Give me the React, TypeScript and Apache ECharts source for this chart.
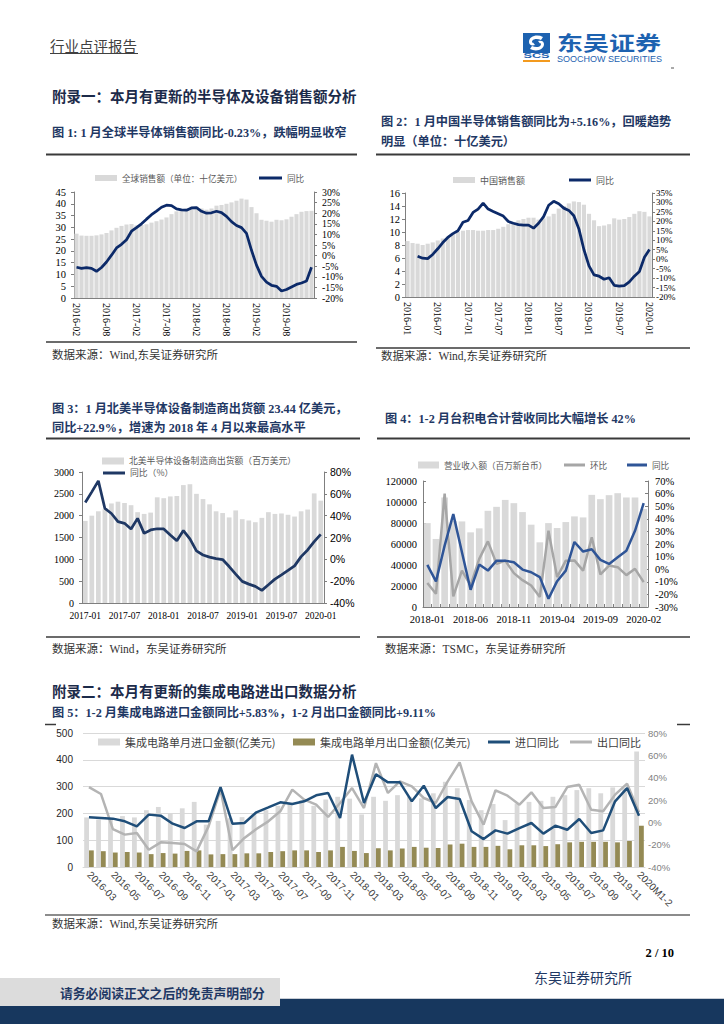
import React, { useEffect, useRef } from "react";
import * as echarts from "echarts";

const SERIF = "'Liberation Serif', 'Noto Sans CJK SC', serif";
const SANS = "'Liberation Sans', 'Noto Sans CJK SC', sans-serif";
const CJK = "'Noto Sans CJK SC', 'Liberation Sans', sans-serif";

function monthRange(y0: number, m0: number, n: number): string[] {
  const out: string[] = [];
  let y = y0;
  let m = m0;
  for (let i = 0; i < n; i++) {
    out.push(`${y}-${m < 10 ? "0" + m : m}`);
    m++;
    if (m > 12) {
      m = 1;
      y++;
    }
  }
  return out;
}

// ---------- Chart 1: global semiconductor sales ----------
const c1Categories = monthRange(2016, 2, 48);
const c1Sales = [
  27.3, 26.5, 26.4, 26.4, 26.6, 27.0, 27.6, 28.7, 29.8, 30.6,
  31.2, 31.4, 30.8, 31.0, 31.3, 32.0, 32.6, 33.3, 34.2, 35.6,
  36.8, 37.3, 38.0, 38.8, 38.8, 38.0, 37.5, 38.0, 39.2, 39.5,
  40.0, 40.6, 41.3, 42.2, 41.8, 38.6, 36.0, 33.2, 32.8, 32.4,
  33.2, 33.0, 33.4, 34.5, 35.6, 36.6, 36.9, 37.0,
];
const c1Yoy = [
  -5.5, -6.0, -5.7, -6.0, -7.4, -5.6, -3.0, 0.2, 3.6, 5.3,
  7.5, 11.5, 13.2, 15.0, 17.2, 19.3, 21.0, 22.8, 23.8, 23.6,
  22.0, 21.6, 21.4, 22.5, 22.6, 20.9, 20.0, 20.2, 20.9, 20.3,
  18.5, 16.0, 14.2, 13.2, 10.5, 2.5, -4.5, -9.8, -12.5, -14.0,
  -14.5, -16.7, -16.0, -14.8, -13.6, -12.9, -12.0, -5.5,
];

// ---------- Chart 2: China semiconductor sales ----------
const c2Categories = monthRange(2016, 1, 49);
const c2Sales = [
  8.6, 8.3, 8.2, 8.0, 8.2, 8.4, 8.7, 9.0, 9.3, 9.7,
  10.0, 10.2, 10.3, 10.3, 10.2, 10.2, 10.3, 10.3, 10.5, 10.8,
  11.2, 11.5, 11.8, 12.0, 12.2, 12.2, 11.9, 12.1, 12.4, 12.8,
  13.6, 14.0, 14.4, 14.7, 14.6, 14.2, 12.8, 11.8, 10.9, 11.0,
  11.2, 12.1, 11.9, 12.0, 12.3, 12.8, 13.2, 13.1, 12.4,
];
const c2Yoy = [
  null, null, 1.6, 0.5, 0.3, 2.5, 5.5, 8.8, 11.5, 13.5,
  15.0, 19.5, 20.5, 24.7, 26.5, 29.7, 26.5, 25.2, 24.0, 22.8,
  19.9, 19.0, 18.3, 18.0, 18.0, 16.4, 19.0, 22.5, 28.5, 30.6,
  29.3, 27.0, 25.8, 23.0, 16.0, 5.0, -3.5, -8.3, -9.0, -10.6,
  -9.8, -13.8, -14.3, -14.0, -12.0, -9.0, -6.5, 1.0, 5.16,
];

// ---------- Chart 3: North America equipment billings ----------
const c3Categories = monthRange(2017, 1, 37);
const c3Billings = [
  1880, 2000, 2100, 2150, 2280, 2320, 2290, 2240, 2080, 2040,
  2070, 2420, 2400, 2440, 2450, 2700, 2720, 2500, 2380, 2260,
  2100, 2060, 1960, 2120, 1920, 1890, 1850, 1950, 2080, 2040,
  2050, 2020, 1980, 2100, 2140, 2510, 2344,
];
const c3Yoy = [
  52.0, 61.8, 71.9, 46.6, 42.0, 34.5, 33.0, 27.8, 37.5, 23.8,
  26.9, 28.0, 27.8, 22.3, 17.1, 26.3, 18.7, 7.7, 4.0, 2.0,
  0.7, -0.2, -6.6, -13.6, -20.2, -22.7, -24.8, -28.4, -23.3, -18.1,
  -14.2, -10.2, -6.0, 2.5, 8.6, 16.2, 22.9,
];

// ---------- Chart 4: TSMC revenue ----------
const c4Categories = monthRange(2018, 1, 26);
const c4Revenue = [
  79900, 64800, 104300, 81900, 81500, 71100, 74900, 91600, 95400, 102000,
  98900, 90400, 78400, 61600, 79900, 75200, 80900, 86300, 85300, 106800,
  102700, 106500, 108400, 104300, 104300, 93400,
];
const c4Mom = [
  -11.0, -19.5, 60.0, -21.6, -1.1, -12.9, 8.2, 22.1, 4.2, 6.8,
  -3.1, -8.7, -12.9, -22.0, 30.5, -6.3, 6.8, 7.0, -1.1, 25.3,
  -4.2, 2.9, 1.6, -4.7, 0.3, -10.3,
];
const c4Yoy = [
  3.4, -9.7, 18.7, 43.7, 13.4, -16.3, 3.7, -1.1, 6.8, 6.8,
  5.5, -0.3, -2.4, -6.3, -23.4, -9.5, -1.1, 21.6, 14.0, 15.8,
  7.4, 4.2, 9.5, 14.7, 30.5, 52.4,
];

// ---------- Chart 5: IC import / export ----------
const c5Categories = [...monthRange(2016, 3, 46), "2020M1-2"];
const c5Import = [
  185, 177, 182, 190, 185, 212, 224, 198, 219, 243,
  158, 172, 182, 186, 200, 212, 228, 240, 250, 228,
  252, 262, 255, 196, 262, 247, 268, 262, 256, 275,
  318, 294, 250, 212, 235, 175, 237, 243, 247, 262,
  268, 287, 294, 275, 297, 294, 431,
];
const c5Export = [
  62, 59, 54, 56, 54, 48, 52, 50, 60, 62,
  47, 48, 48, 51, 51, 56, 59, 62, 62, 56,
  62, 75, 60, 52, 70, 62, 69, 75, 72, 71,
  84, 87, 75, 75, 79, 66, 81, 81, 78, 85,
  92, 94, 94, 94, 92, 97, 154,
];
const c5ImportYoy = [
  4.5, 3.9, 3.3, 0.9, -3.6, 6.9, 6.0, -1.2, -5.1, 0.9,
  0.9, 31.6, -1.2, -0.6, 9.0, 13.4, 17.9, 16.4, 18.8, 24.2,
  26.3, 3.9, 60.6, 17.3, 43.0, 35.8, 35.8, 18.8, 32.8, 12.8,
  22.7, 20.9, -8.0, -15.0, -7.2, -10.1, -5.1, -0.6, -10.1, -3.0,
  -6.6, 3.0, -9.6, -7.2, 18.8, 30.7, 5.83,
];
const c5ExportYoy = [
  31.6, 25.4, -6.0, -11.0, -9.6, -24.5, -17.9, -18.5, -19.4, -26.0,
  -3.6, 29.3, -25.0, -14.0, -6.0, 0.9, 9.9, 29.3, 20.3, 15.8,
  4.8, 17.3, 30.7, 12.8, 53.0, 26.3, 36.7, 32.2, 21.8, 17.3,
  36.7, 53.7, 18.8, -2.1, 28.7, 23.9, 15.8, 26.9, 12.8, 13.7,
  31.6, 33.7, 11.3, 9.9, 24.8, 34.6, 9.11,
];

// ---------- logo shape ----------
const LOGO_D =
  "M20 4 C14 1 6 3 6 9 C6 12 9 13 12 12 L10 9.5 C9 10 8.5 9 9.5 7.5 C11 5.5 15 5.5 18 7 Z " +
  "M7 16 C13 19 21 17 21 11 C21 8 18 7 15 8 L17 10.5 C18 10 18.5 11 17.5 12.5 C16 14.5 12 14.5 9 13 Z";
let logoRegistered = false;
function ensureLogo() {
  if (logoRegistered) return;
  echarts.graphic.registerShape("scsLogo", echarts.graphic.extendPath(LOGO_D, {}));
  logoRegistered = true;
}

const AXIS_GREY = "#7f7f7f";
const NAVY_TITLE = "#1f3864";

function txt(text: string, x: number, y: number, size: number, fill: string, opts: any = {}) {
  const { weight = "normal", family = SERIF, align = "left", ...rest } = opts;
  return {
    type: "text",
    x,
    y,
    silent: true,
    style: {
      text,
      fill,
      fontSize: size,
      fontWeight: weight,
      fontFamily: family,
      align,
      verticalAlign: "middle",
    },
    ...rest,
  };
}
function hline(x1: number, x2: number, y: number, stroke: string, w: number) {
  return { type: "line", silent: true, shape: { x1, y1: y, x2, y2: y }, style: { stroke, lineWidth: w } };
}
function rect(x: number, y: number, width: number, height: number, fill: string) {
  return { type: "rect", silent: true, shape: { x, y, width, height }, style: { fill } };
}

function leg(name: string, left: number, yc: number, w: number, h: number, color: string, fontSize: number, textColor = "#404040") {
  const rowH = Math.max(h, fontSize);
  return {
    show: true,
    left,
    top: yc - rowH / 2,
    padding: 0,
    itemWidth: w,
    itemHeight: h,
    itemGap: 0,
    selectedMode: false,
    data: [{ name, icon: "rect", itemStyle: { color, borderWidth: 0 } }],
    textStyle: { fontSize, color: textColor, fontFamily: CJK },
  };
}

function xa(gridIndex: number, data: string[], label: any, extra: any = {}) {
  return {
    type: "category",
    gridIndex,
    data,
    boundaryGap: true,
    axisLine: { show: true, lineStyle: { color: AXIS_GREY, width: 1 } },
    axisTick: { show: false },
    splitLine: { show: false },
    axisLabel: { color: "#000", fontFamily: SERIF, fontSize: 10, ...label },
    ...extra,
  };
}
const plain = (v: number) => String(v);
const pct = (v: number) => `${v}%`;
function ya(gridIndex: number, position: string, min: number, max: number, interval: number, label: any, extra: any = {}) {
  return {
    type: "value",
    gridIndex,
    position,
    min,
    max,
    interval,
    axisLine: { show: true, lineStyle: { color: AXIS_GREY, width: 1 } },
    axisTick: { show: true, length: 3, lineStyle: { color: AXIS_GREY } },
    splitLine: { show: false },
    axisLabel: {
      color: "#000",
      fontFamily: SERIF,
      fontSize: 11,
      margin: 8,
      showMinLabel: true,
      showMaxLabel: true,
      hideOverlap: false,
      formatter: plain,
      ...label,
    },
    ...extra,
  };
}

function buildOption() {
  const grid = [
    { left: 74, top: 192, width: 240, height: 106, outerBoundsMode: "none" },
    { left: 405, top: 193, width: 247, height: 104, outerBoundsMode: "none" },
    { left: 82, top: 472, width: 242, height: 131, outerBoundsMode: "none" },
    { left: 423, top: 481, width: 225, height: 126, outerBoundsMode: "none" },
    { left: 83, top: 733, width: 562, height: 134, outerBoundsMode: "none" },
  ];
  const xAxis = [
    xa(0, c1Categories, { interval: 5, rotate: -90, margin: 5, fontSize: 10 }),
    xa(1, c2Categories, { interval: 5, rotate: -90, margin: 5, fontSize: 10 }),
    xa(2, c3Categories, { interval: 5, margin: 8, fontSize: 9.5 }),
    xa(3, c4Categories, { interval: 4, margin: 7, fontSize: 10.5 }, {
      axisTick: { show: true, inside: true, length: 3, interval: 0, lineStyle: { color: AXIS_GREY } },
    }),
    xa(4, c5Categories, { interval: 1, rotate: -45, margin: 6, fontSize: 10, fontFamily: SANS, color: "#404040" }, {
      axisLine: { show: true, lineStyle: { color: "#d9d9d9", width: 1 } },
    }),
  ];
  const yAxis = [
    ya(0, "left", 0, 45, 5, { fontSize: 10.5 }),
    ya(0, "right", -20, 30, 5, { formatter: pct, fontSize: 9.8 }),
    ya(1, "left", 0, 16, 2, { margin: 5, fontSize: 10.5 }),
    ya(1, "right", -20, 35, 5, { formatter: pct, margin: 4, fontSize: 9 }),
    ya(2, "left", 0, 3000, 500, { fontSize: 10 }),
    ya(2, "right", -40, 80, 20, { formatter: pct, fontFamily: SANS, fontSize: 10.5, margin: 6 }),
    ya(3, "left", 0, 120000, 20000, { fontSize: 10.5, margin: 6 }, {
      axisTick: { show: true, inside: true, length: 3, lineStyle: { color: AXIS_GREY } },
    }),
    ya(3, "right", -30, 70, 10, { formatter: pct, fontSize: 10.5, margin: 7 }, {
      axisTick: { show: true, inside: true, length: 3, lineStyle: { color: AXIS_GREY } },
    }),
    ya(4, "left", 0, 500, 100, { fontFamily: SANS, fontSize: 10, margin: 10, color: "#262626" }, {
      axisLine: { show: false },
      axisTick: { show: false },
      splitLine: { show: true, lineStyle: { color: "#d9d9d9", width: 1 } },
    }),
    ya(4, "right", -40, 80, 20, { formatter: pct, fontFamily: SANS, fontSize: 9.5, margin: 3, color: "#7f7f7f" }, {
      axisLine: { show: false },
      axisTick: { show: false },
    }),
  ];

  const series: any[] = [
    // chart 1
    {
      type: "bar", name: "全球销售额（单位：十亿美元）", xAxisIndex: 0, yAxisIndex: 0, data: c1Sales,
      itemStyle: { color: "#d9d9d9" }, barCategoryGap: "18%",
    },
    {
      type: "line", name: "同比", xAxisIndex: 0, yAxisIndex: 1, data: c1Yoy, symbol: "none",
      lineStyle: { color: "#0c2a69", width: 2.75 }, itemStyle: { color: "#0c2a69" },
    },
    // chart 2
    {
      type: "bar", name: "中国销售额", xAxisIndex: 1, yAxisIndex: 2, data: c2Sales,
      itemStyle: { color: "#d9d9d9" }, barCategoryGap: "18%",
    },
    {
      type: "line", name: "同比", xAxisIndex: 1, yAxisIndex: 3, data: c2Yoy, symbol: "none",
      lineStyle: { color: "#0c2a69", width: 2.75 }, itemStyle: { color: "#0c2a69" },
    },
    // chart 3
    {
      type: "bar", name: "北美半导体设备制造商出货额（百万美元）", xAxisIndex: 2, yAxisIndex: 4, data: c3Billings,
      itemStyle: { color: "#d9d9d9" }, barCategoryGap: "28%",
    },
    {
      type: "line", name: "同比（%）", xAxisIndex: 2, yAxisIndex: 5, data: c3Yoy, symbol: "none",
      lineStyle: { color: "#1f3864", width: 2.75 }, itemStyle: { color: "#1f3864" },
    },
    // chart 4
    {
      type: "bar", name: "营业收入额（百万新台币）", xAxisIndex: 3, yAxisIndex: 6, data: c4Revenue,
      itemStyle: { color: "#d9d9d9" }, barCategoryGap: "23%",
    },
    {
      type: "line", name: "环比", xAxisIndex: 3, yAxisIndex: 7, data: c4Mom, symbol: "none",
      lineStyle: { color: "#a6a6a6", width: 2.5 }, itemStyle: { color: "#a6a6a6" },
    },
    {
      type: "line", name: "同比", xAxisIndex: 3, yAxisIndex: 7, data: c4Yoy, symbol: "none",
      lineStyle: { color: "#2f5597", width: 2.5 }, itemStyle: { color: "#2f5597" },
    },
    // chart 5
    {
      type: "bar", name: "集成电路单月进口金额(亿美元)", xAxisIndex: 4, yAxisIndex: 8, data: c5Import,
      itemStyle: { color: "#d9d9d9" }, barGap: "0%", barCategoryGap: "20%",
    },
    {
      type: "bar", name: "集成电路单月出口金额(亿美元)", xAxisIndex: 4, yAxisIndex: 8, data: c5Export,
      itemStyle: { color: "#948a54" }, barGap: "0%", barCategoryGap: "20%",
    },
    {
      type: "line", name: "出口同比", xAxisIndex: 4, yAxisIndex: 9, data: c5ExportYoy, symbol: "none",
      lineStyle: { color: "#b4b4b4", width: 2.5 }, itemStyle: { color: "#b4b4b4" },
    },
    {
      type: "line", name: "进口同比", xAxisIndex: 4, yAxisIndex: 9, data: c5ImportYoy, symbol: "none",
      lineStyle: { color: "#1f4e79", width: 2.5 }, itemStyle: { color: "#1f4e79" },
    },
  ];

  const legend = [
    leg("全球销售额（单位：十亿美元）", 95, 178, 22, 6, "#d9d9d9", 8.6, "#595959"),
    leg("同比", 259, 178, 23, 3, "#0c2a69", 8.6, "#595959"),
    leg("中国销售额", 453, 180, 22, 6, "#d9d9d9", 9, "#595959"),
    leg("同比", 569, 180, 22, 3, "#0c2a69", 9, "#595959"),
    leg("北美半导体设备制造商出货额（百万美元）", 102, 461, 22, 7, "#d9d9d9", 8.8, "#595959"),
    leg("同比（%）", 103, 473, 22, 3, "#1f3864", 8.8, "#595959"),
    leg("营业收入额（百万新台币）", 418, 465, 21, 7, "#d9d9d9", 8.6, "#595959"),
    leg("环比", 564, 465, 21, 3, "#a6a6a6", 8.6, "#595959"),
    leg("同比", 627, 465, 20, 3, "#2f5597", 8.6, "#595959"),
    leg("集成电路单月进口金额(亿美元)", 98, 742, 22, 7, "#d9d9d9", 11, "#404040"),
    leg("集成电路单月出口金额(亿美元)", 293, 742, 22, 7, "#948a54", 11, "#404040"),
    leg("进口同比", 488, 742, 22, 3, "#1f4e79", 11, "#404040"),
    leg("出口同比", 570, 742, 22, 3, "#b4b4b4", 11, "#404040"),
  ];

  const RULE = "#3a3a3a";
  const graphic: any[] = [
    // header
    txt("行业点评报告", 50, 45, 14.5, "#404040", { family: CJK }),
    hline(50, 138, 53.5, "#404040", 1),
    rect(523, 33, 27, 20, "#1d62b0"),
    { type: "scsLogo", x: 523, y: 33, silent: true, style: { fill: "#ffffff" } },
    txt("SCS", 523.5, 56, 6.5, "#1d62b0", { family: SANS, weight: "bold", scaleX: 1.95 }),
    rect(523, 60, 27, 2, "#f39a1e"),
    txt("东吴证券", 557, 42, 20, "#1d62b0", { family: CJK, weight: "bold", scaleX: 1.3 }),
    txt("SOOCHOW SECURITIES", 557, 58.5, 9, "#1d62b0", { family: SANS }),
    hline(671, 674, 68, "#555", 1),

    // section 1
    txt("附录一：本月有更新的半导体及设备销售额分析", 52, 97, 14.5, "#1c2b4a", { weight: "bold" }),
    txt("图 1: 1 月全球半导体销售额同比-0.23%，跌幅明显收窄", 52, 133, 12.2, NAVY_TITLE, { weight: "bold" }),
    txt("图 2：1 月中国半导体销售额同比为+5.16%，回暖趋势", 381, 122, 12.2, NAVY_TITLE, { weight: "bold" }),
    txt("明显（单位：十亿美元）", 381, 142, 12.2, NAVY_TITLE, { weight: "bold" }),
    hline(46, 357, 154.5, RULE, 2),
    hline(376, 690, 154.5, RULE, 2),
    hline(46, 357, 342, RULE, 1.5),
    hline(376, 690, 348, RULE, 1.5),
    txt("数据来源：Wind,东吴证券研究所", 52, 355, 11.5, "#333", {}),
    txt("数据来源：Wind,东吴证券研究所", 381, 356, 11.5, "#333", {}),

    txt("图 3：1 月北美半导体设备制造商出货额 23.44 亿美元，", 52, 409, 12.2, NAVY_TITLE, { weight: "bold" }),
    txt("同比+22.9%，增速为 2018 年 4 月以来最高水平", 52, 428, 12.2, NAVY_TITLE, { weight: "bold" }),
    txt("图 4：1-2 月台积电合计营收同比大幅增长 42%", 385, 419, 12.2, NAVY_TITLE, { weight: "bold" }),
    hline(46, 360, 438.5, RULE, 2),
    hline(377, 690, 438.5, RULE, 2),
    hline(46, 360, 637, RULE, 1.5),
    hline(377, 690, 637, RULE, 1.5),
    txt("数据来源：Wind，东吴证券研究所", 52, 649, 11.5, "#333", {}),
    txt("数据来源：TSMC，东吴证券研究所", 385, 649, 11.5, "#333", {}),

    // section 2
    txt("附录二：本月有更新的集成电路进出口数据分析", 52, 692, 14.5, "#1c2b4a", { weight: "bold" }),
    txt("图 5：1-2 月集成电路进口金额同比+5.83%，1-2 月出口金额同比+9.11%", 52, 713, 12.2, NAVY_TITLE, { weight: "bold" }),
    hline(45, 56, 724.5, RULE, 1.5),
    hline(677, 690, 724.5, RULE, 1.5),
    hline(45, 690, 915, "#8c8c8c", 2),
    txt("数据来源：Wind,东吴证券研究所", 52, 924, 11.5, "#333", {}),

    // footer
    txt("2 / 10", 674, 953, 12.5, "#000", { weight: "bold", align: "right" }),
    txt("东吴证券研究所", 534, 977, 14, NAVY_TITLE, { family: CJK }),
    rect(0, 999, 724, 25, "#17375e"),
    hline(0, 724, 998.5, "#c9ced6", 1),
    rect(0, 978, 280, 28, "#dcdcdc"),
    txt("请务必阅读正文之后的免责声明部分", 60, 992, 12.8, "#1f3864", { family: CJK, weight: "bold" }),
  ];

  return {
    animation: false,
    backgroundColor: "#ffffff",
    textStyle: { fontFamily: SERIF },
    grid,
    xAxis,
    yAxis,
    series,
    legend,
    graphic,
  };
}

export default function App() {
  const ref = useRef<HTMLDivElement>(null);
  useEffect(() => {
    document.body.style.margin = "0";
    ensureLogo();
    const chart = echarts.init(ref.current as HTMLDivElement, null, { renderer: "svg", width: 724, height: 1024 });
    chart.setOption(buildOption() as any);
    return () => {
      chart.dispose();
    };
  }, []);
  return <div ref={ref} style={{ width: 724, height: 1024, position: "absolute", left: 0, top: 0 }} />;
}
